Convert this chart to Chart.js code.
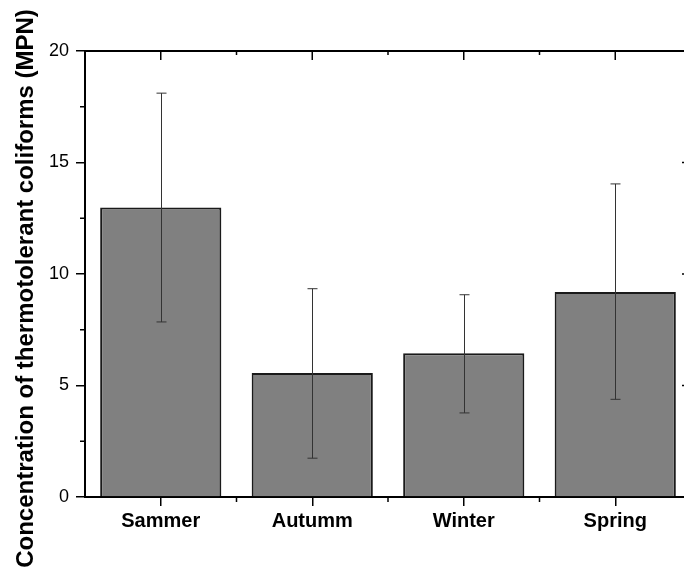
<!DOCTYPE html>
<html>
<head>
<meta charset="utf-8">
<script src="https://cdn.jsdelivr.net/npm/chart.js@4.4.0/dist/chart.umd.min.js"></script>
<style>
html, body { margin: 0; padding: 0; overflow: hidden; background: #fff; }
#wrap { width: 684px; height: 571px; overflow: hidden; }
canvas { display: block; }
</style>
</head>
<body>
<div id="wrap"><canvas id="chart" width="700" height="571"></canvas></div>
<script>
// values
const seasons = ['Sammer', 'Autumm', 'Winter', 'Spring'];
const meanValues = [12.98, 5.56, 6.45, 9.19];
const errLow = [7.85, 1.74, 3.77, 4.38];
const errHigh = [18.11, 9.34, 9.07, 14.04];
const yMin = 0, yMax = 20, yStep = 5, yMinorStep = 2.5;
const yTitle = 'Concentration of thermotolerant coliforms (MPN)';

const FONT = "'Liberation Sans', Arial, sans-serif";

// error bars on top of the bars
const errorBars = {
    id: 'errorBars',
    afterDatasetsDraw(chart) {
        const { ctx, scales: { x, y } } = chart;
        ctx.save();
        ctx.strokeStyle = '#333';
        ctx.lineWidth = 1;
        seasons.forEach((s, i) => {
            const px = Math.round(x.getPixelForValue(i)) + 0.5;
            const top = y.getPixelForValue(errHigh[i]);
            const bot = y.getPixelForValue(errLow[i]);
            ctx.beginPath();
            ctx.moveTo(px, top); ctx.lineTo(px, bot);
            ctx.moveTo(px - 5, top); ctx.lineTo(px + 5, top);
            ctx.moveTo(px - 5, bot); ctx.lineTo(px + 5, bot);
            ctx.stroke();
        });
        ctx.restore();
    }
};

// box frame, inward ticks on top/right, minor ticks, axis title
const frame = {
    id: 'frame',
    afterDraw(chart) {
        const { ctx, chartArea: a, scales: { x, y } } = chart;
        ctx.save();
        ctx.strokeStyle = '#000';
        ctx.lineWidth = 2;
        ctx.beginPath();
        ctx.moveTo(a.left, a.top); ctx.lineTo(a.right, a.top); ctx.lineTo(a.right, a.bottom);
        ctx.stroke();

        ctx.lineWidth = 1.5;
        ctx.beginPath();
        const catW = (a.right - a.left) / seasons.length;
        seasons.forEach((s, i) => {
            const px = x.getPixelForValue(i);
            ctx.moveTo(px, a.top); ctx.lineTo(px, a.top + 9);
        });
        for (let i = 1; i < seasons.length; i++) {
            const bx = a.left + catW * i;
            ctx.moveTo(bx, a.top); ctx.lineTo(bx, a.top + 4);
            ctx.moveTo(bx, a.bottom); ctx.lineTo(bx, a.bottom + 5);
        }
        for (let v = yMin; v <= yMax; v += yMinorStep) {
            const py = y.getPixelForValue(v);
            const major = v % yStep === 0;
            ctx.moveTo(a.right, py); ctx.lineTo(a.right - (major ? 9 : 4), py);
            if (!major) { ctx.moveTo(a.left, py); ctx.lineTo(a.left - 5, py); }
        }
        ctx.stroke();

        ctx.fillStyle = '#000';
        ctx.font = 'bold 24px ' + FONT;
        ctx.textAlign = 'center';
        ctx.textBaseline = 'alphabetic';
        ctx.translate(33, 288.5);
        ctx.rotate(-Math.PI / 2);
        ctx.fillText(yTitle, 0, 0);
        ctx.restore();
    }
};

new Chart(document.getElementById('chart'), {
    type: 'bar',
    data: {
        labels: seasons,
        datasets: [{
            data: meanValues,
            backgroundColor: '#808080',
            borderColor: '#1a1a1a',
            borderWidth: 2,
            barPercentage: 0.8,
            categoryPercentage: 1.0
        }]
    },
    options: {
        responsive: false,
        animation: false,
        devicePixelRatio: 1,
        layout: { padding: { top: 51, right: 9, left: 0, bottom: 0 } },
        plugins: { legend: { display: false }, tooltip: { enabled: false } },
        scales: {
            x: {
                offset: true,
                grid: { offset: false, drawOnChartArea: false, tickLength: 9, color: '#000', lineWidth: 1.5 },
                border: { display: true, color: '#000', width: 2 },
                ticks: { color: '#000', padding: 3, font: { family: FONT, size: 20, weight: 'bold' } },
                afterFit: s => { s.height = 74; }
            },
            y: {
                min: yMin, max: yMax,
                grid: { drawOnChartArea: false, tickLength: 9, color: '#000', lineWidth: 1.5 },
                border: { display: true, color: '#000', width: 2 },
                ticks: { stepSize: yStep, color: '#000', padding: 7, font: { family: FONT, size: 18 } },
                afterFit: s => { s.width = 85; }
            }
        }
    },
    plugins: [errorBars, frame]
});
</script>
</body>
</html>
